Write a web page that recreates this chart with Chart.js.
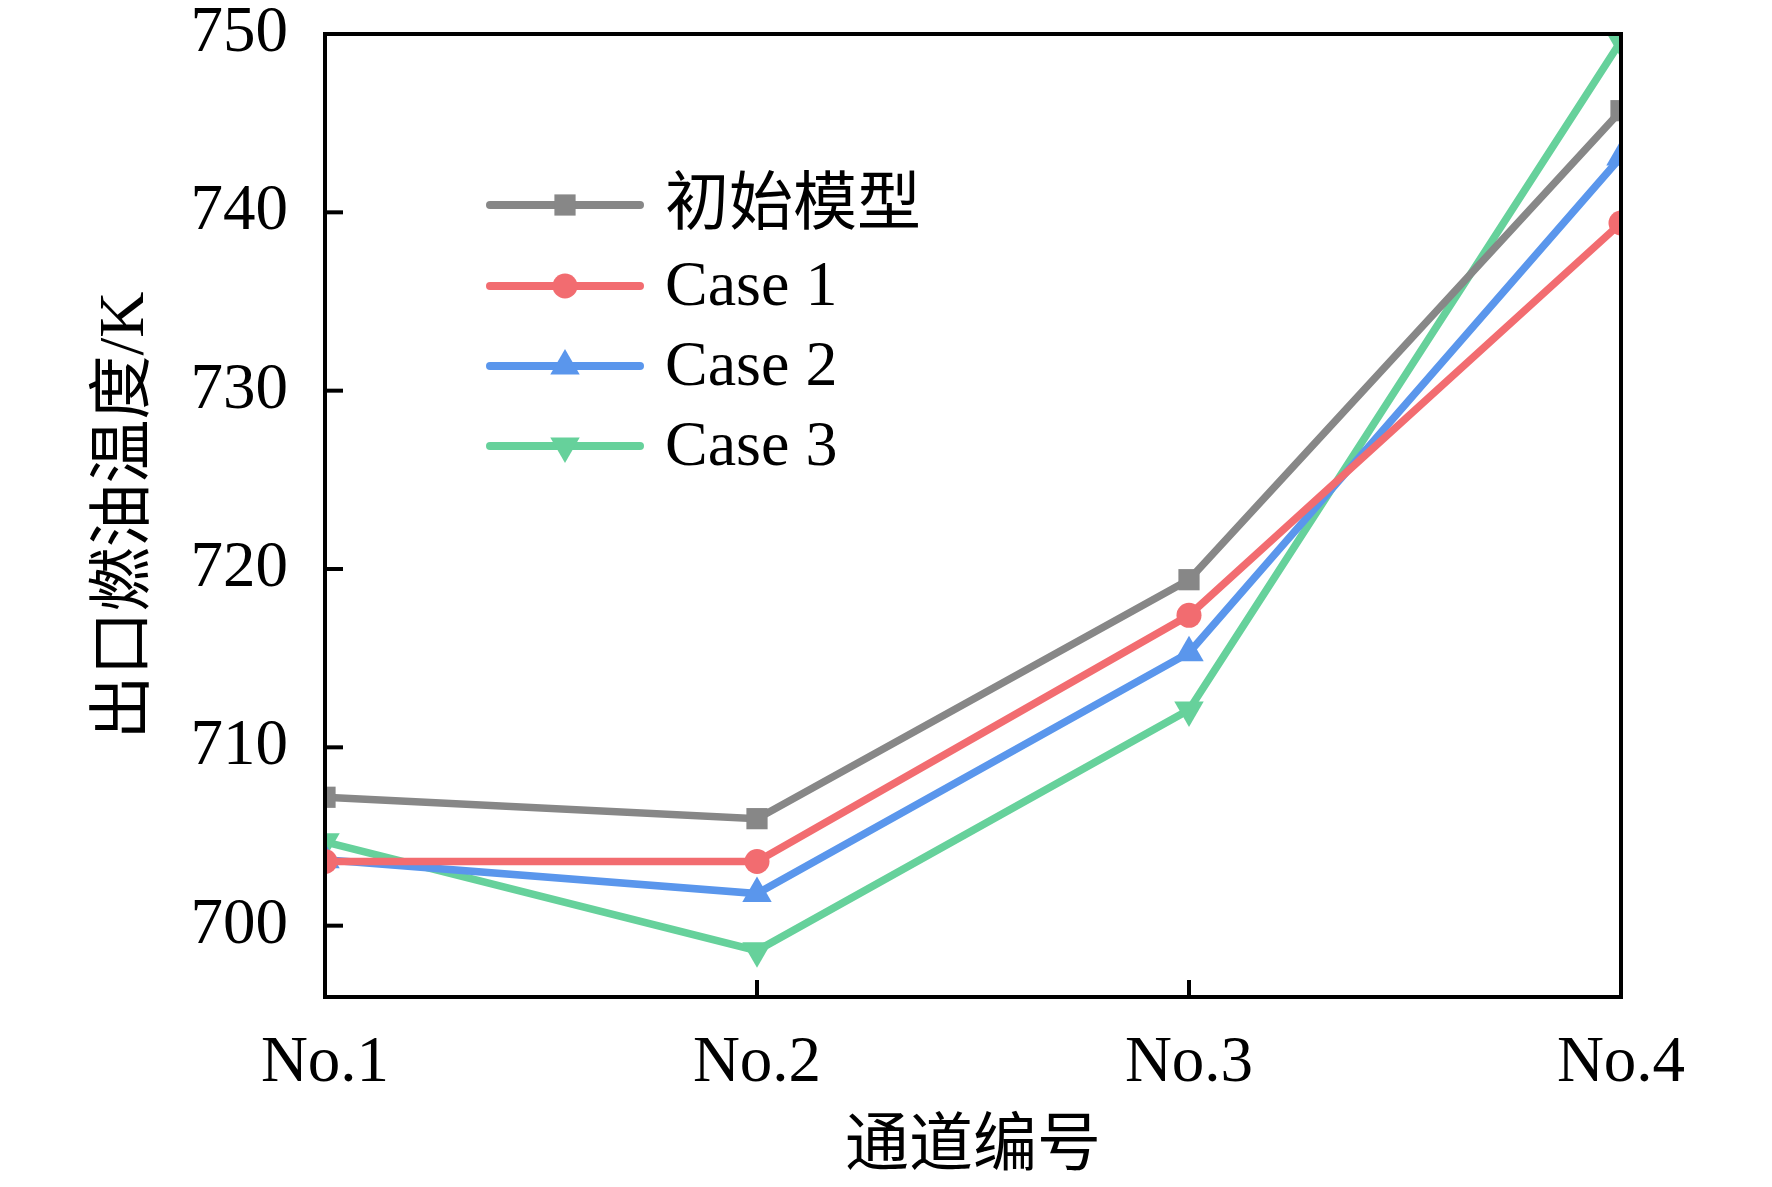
<!DOCTYPE html>
<html>
<head>
<meta charset="utf-8">
<script src="https://cdn.jsdelivr.net/npm/chart.js@4.4.1/dist/chart.umd.min.js"></script>
<style>
  html, body { margin: 0; padding: 0; background: #ffffff; }
  #wrap { width: 1772px; height: 1187px; }
</style>
</head>
<body>
<div id="wrap"><canvas id="c" width="1772" height="1187"></canvas></div>
<script>
const categories = ['No.1', 'No.2', 'No.3', 'No.4'];
const seriesNames = ['初始模型', 'Case 1', 'Case 2', 'Case 3'];
const initialModel = [707.2, 706.0, 719.4, 745.7];
const case1 = [703.6, 703.6, 717.4, 739.4];
const case2 = [703.7, 701.8, 715.3, 743.1];
const case3 = [704.7, 698.6, 712.1, 749.6];
const yTicks = [700, 710, 720, 730, 740, 750];
const yMin = 696, yMax = 750;
const xTitle = '通道编号';
const yTitle = '出口燃油温度/K';

const colors = ['#878787', '#f26c70', '#5a96ec', '#66d19b'];
const shapes = ['rect', 'circle', 'triangle', 'triangle'];
const radii = [15, 12.5, 17, 17];
const rotations = [0, 0, 0, 180];
const allData = [initialModel, case1, case2, case3];

const FONT = "'Liberation Serif', 'Times New Roman', 'Noto Sans CJK SC', serif";

const datasets = allData.map((d, i) => ({
  label: seriesNames[i],
  data: d,
  borderColor: colors[i],
  backgroundColor: colors[i],
  borderWidth: 7.5,
  pointStyle: shapes[i],
  pointRadius: radii[i],
  pointHoverRadius: radii[i],
  pointRotation: rotations[i],
  pointBorderWidth: 0,
  pointBackgroundColor: colors[i],
  tension: 0,
  clip: 0
}));

const framePlugin = {
  id: 'frame',
  afterDraw(chart) {
    const {ctx, chartArea: a} = chart;
    const xs = chart.scales.x, ys = chart.scales.y;
    ctx.save();
    ctx.strokeStyle = '#000';
    ctx.lineWidth = 4;
    ctx.lineCap = 'butt';
    ys.ticks.forEach((t, i) => {
      const y = ys.getPixelForTick(i);
      ctx.beginPath();
      ctx.moveTo(a.left, y);
      ctx.lineTo(a.left + 18, y);
      ctx.stroke();
    });
    xs.ticks.forEach((t, i) => {
      const x = xs.getPixelForTick(i);
      ctx.beginPath();
      ctx.moveTo(x, a.bottom);
      ctx.lineTo(x, a.bottom - 17);
      ctx.stroke();
    });
    ctx.strokeRect(a.left, a.top, a.right - a.left, a.bottom - a.top);
    ctx.restore();
  }
};

const legendPlugin = {
  id: 'customLegend',
  afterDraw(chart) {
    const {ctx} = chart;
    const x0 = 490, x1 = 640, xm = 565, tx = 665;
    const rowY = [205, 286, 366, 446];
    ctx.save();
    chart.data.datasets.forEach((ds, i) => {
      const y = rowY[i];
      ctx.strokeStyle = ds.borderColor;
      ctx.lineWidth = 8;
      ctx.lineCap = 'round';
      ctx.beginPath();
      ctx.moveTo(x0, y);
      ctx.lineTo(x1, y);
      ctx.stroke();
      ctx.fillStyle = ds.borderColor;
      Chart.helpers.drawPoint(ctx, {
        pointStyle: ds.pointStyle,
        radius: ds.pointRadius,
        rotation: ds.pointRotation,
        borderWidth: 0
      }, xm, y);
      ctx.fillStyle = '#000';
      ctx.font = "64px " + FONT;
      ctx.textBaseline = 'middle';
      ctx.textAlign = 'left';
      ctx.fillText(ds.label, tx, y + 2);
    });
    ctx.restore();
  }
};

new Chart(document.getElementById('c'), {
  type: 'line',
  data: { labels: categories, datasets },
  options: {
    responsive: false,
    animation: false,
    devicePixelRatio: 1,
    layout: { padding: { top: 34, right: 151, left: 0, bottom: 0 } },
    plugins: {
      legend: { display: false },
      tooltip: { enabled: false }
    },
    scales: {
      x: {
        type: 'category',
        offset: false,
        grid: { display: false, drawTicks: false },
        border: { display: false },
        ticks: {
          color: '#000',
          padding: 28,
          maxRotation: 0,
          autoSkip: false,
          font: { family: FONT, size: 65 }
        },
        title: {
          display: true,
          text: xTitle,
          color: '#000',
          padding: { top: 0, bottom: 0 },
          font: { family: FONT, size: 64 }
        },
        afterFit(scale) {
          scale.height = 190;
          scale.paddingLeft = 0;
          scale.paddingRight = 0;
        }
      },
      y: {
        type: 'linear',
        min: yMin,
        max: yMax,
        grid: { display: false, drawTicks: false },
        border: { display: false },
        afterBuildTicks(scale) {
          scale.ticks = yTicks.map(v => ({ value: v }));
        },
        ticks: {
          color: '#000',
          padding: 37,
          font: { family: FONT, size: 65 }
        },
        title: {
          display: true,
          text: yTitle,
          color: '#000',
          padding: { top: 88, bottom: 0 },
          font: { family: FONT, size: 64 }
        },
        afterFit(scale) {
          scale.width = 325;
          scale.paddingTop = 0;
          scale.paddingBottom = 0;
        }
      }
    }
  },
  plugins: [framePlugin, legendPlugin]
});
</script>
</body>
</html>
